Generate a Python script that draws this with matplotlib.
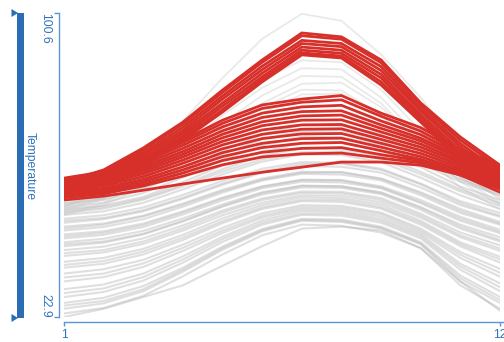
import matplotlib
matplotlib.use("Agg")
import matplotlib.pyplot as plt
from matplotlib.patches import Polygon, Rectangle

plt.rcParams['font.family'] = ['Liberation Sans', 'DejaVu Sans']

months = list(range(1, 13))
y_min, y_max = 22.9, 100.6
axis_name = "Temperature"

# Highlighted series: the hot-summer group
red_upper = [
    [57.4, 60.5, 66.1, 72.7, 80.9, 88.6, 95.5, 94.5, 88.6, 77.6, 68.9, 61.7],
    [57.0, 60.2, 65.6, 72.2, 80.3, 88.0, 94.8, 93.9, 87.9, 77.0, 68.1, 61.0],
    [56.8, 59.8, 64.9, 71.4, 79.4, 87.0, 93.6, 92.8, 86.9, 76.2, 67.2, 60.1],
    [56.5, 59.4, 64.3, 70.6, 78.6, 86.1, 92.8, 92.0, 85.9, 75.5, 66.4, 59.4],
    [56.2, 59.0, 63.6, 69.9, 77.6, 85.2, 91.9, 91.1, 84.9, 74.6, 65.5, 58.5],
    [55.9, 58.6, 62.9, 69.2, 76.8, 84.3, 91.1, 90.3, 84.0, 73.9, 64.6, 57.8],
    [55.6, 58.2, 62.3, 68.6, 75.9, 83.6, 90.4, 89.6, 83.0, 73.2, 63.8, 57.1],
    [55.4, 57.9, 61.7, 68.1, 75.3, 83.0, 89.9, 89.1, 82.2, 72.7, 63.0, 56.6],
]

# Highlighted series: the mild-summer group
red_lower = [
    [58.4, 60.0, 63.5, 68.1, 73.2, 77.1, 78.6, 79.5, 75.0, 71.3, 65.7, 61.7],
    [58.1, 59.7, 63.0, 67.5, 72.4, 76.2, 77.8, 78.4, 74.2, 70.4, 65.0, 61.0],
    [57.8, 59.3, 62.5, 66.8, 71.5, 75.0, 76.6, 77.0, 73.0, 69.5, 64.4, 60.5],
    [57.4, 58.8, 61.9, 66.0, 70.5, 73.9, 75.4, 75.6, 72.0, 68.6, 63.9, 59.8],
    [57.0, 58.3, 61.3, 65.2, 69.6, 72.8, 74.3, 74.5, 71.1, 67.9, 63.4, 59.3],
    [56.6, 57.9, 60.7, 64.5, 68.7, 71.8, 73.2, 73.3, 70.2, 67.1, 62.8, 58.8],
    [56.2, 57.4, 60.1, 63.8, 67.8, 70.7, 72.0, 72.1, 69.2, 66.3, 62.3, 58.2],
    [55.8, 56.9, 59.5, 63.0, 66.9, 69.6, 70.9, 71.0, 68.3, 65.5, 61.7, 57.7],
    [55.3, 56.4, 58.8, 62.2, 65.9, 68.5, 69.7, 69.8, 67.3, 64.7, 61.1, 57.2],
    [54.8, 55.8, 58.1, 61.3, 64.9, 67.3, 68.5, 68.6, 66.3, 63.9, 60.5, 56.7],
    [54.3, 55.3, 57.5, 60.5, 63.9, 66.2, 67.3, 67.5, 65.4, 63.2, 60.0, 56.3],
    [53.8, 54.8, 56.9, 59.7, 62.9, 65.0, 66.0, 66.2, 64.4, 62.8, 59.6, 55.9],
    [53.4, 54.4, 56.4, 58.9, 61.8, 63.8, 64.6, 64.8, 63.5, 62.3, 59.2, 55.6],
    [52.8, 53.8, 55.3, 56.9, 58.4, 59.9, 61.2, 62.5, 62.5, 61.7, 59.2, 54.8],
]

# Background series with hot summers
gray_hot = [
    [51.0, 55.0, 62.0, 73.0, 84.0, 94.0, 100.4, 98.6, 90.0, 79.0, 66.0, 55.0],
    [50.5, 53.5, 59.5, 67.5, 76.0, 83.5, 88.5, 88.0, 81.0, 70.5, 60.0, 53.0],
    [50.0, 53.0, 58.5, 66.0, 74.5, 81.5, 86.5, 86.2, 79.0, 68.5, 58.5, 52.0],
    [49.5, 52.0, 57.5, 64.5, 72.5, 79.5, 84.5, 84.3, 77.5, 67.0, 57.5, 51.5],
    [51.5, 53.5, 58.0, 64.0, 71.0, 77.5, 82.5, 82.8, 76.5, 67.5, 58.5, 53.5],
    [49.0, 51.5, 56.0, 62.5, 70.0, 76.5, 81.0, 80.8, 74.5, 65.0, 56.0, 50.5],
    [52.0, 54.0, 58.0, 63.5, 69.5, 75.0, 79.8, 80.0, 74.5, 66.5, 58.5, 54.0],
]

# Background series, the bulk of the data
gray_main = [
    [52.0, 53.2, 56.0, 60.4, 65.4, 69.6, 72.0, 71.8, 69.6, 64.0, 59.0, 55.0],
    [51.5, 52.8, 55.5, 59.8, 64.5, 68.3, 70.4, 70.6, 68.0, 63.2, 58.0, 54.6],
    [51.0, 52.1, 54.6, 58.6, 63.1, 66.8, 69.0, 68.8, 66.8, 62.0, 57.5, 54.0],
    [50.5, 51.4, 53.6, 57.4, 61.6, 65.2, 67.3, 67.5, 65.6, 61.2, 56.2, 52.8],
    [50.0, 51.0, 53.2, 56.7, 60.7, 64.1, 66.0, 65.8, 64.0, 60.0, 55.5, 52.0],
    [49.5, 50.6, 52.9, 56.3, 60.1, 63.2, 65.0, 65.2, 63.3, 59.4, 55.0, 51.3],
    [49.0, 49.9, 52.1, 55.5, 59.4, 62.6, 64.5, 64.3, 62.5, 58.5, 54.0, 50.5],
    [48.0, 48.9, 50.9, 54.1, 57.7, 60.8, 62.5, 62.3, 60.8, 57.0, 52.5, 49.5],
    [47.5, 48.2, 50.2, 53.4, 57.0, 60.1, 62.0, 62.1, 60.5, 56.8, 52.0, 48.8],
    [47.0, 47.9, 49.9, 53.1, 56.7, 59.8, 61.5, 61.3, 59.8, 56.0, 51.5, 48.5],
    [46.0, 46.8, 48.8, 51.9, 55.4, 58.3, 60.0, 59.9, 58.3, 54.8, 50.5, 47.2],
    [45.5, 46.5, 48.6, 51.6, 55.1, 58.0, 59.8, 59.9, 58.2, 54.5, 50.0, 46.8],
    [45.0, 45.9, 47.9, 51.1, 54.7, 57.8, 59.5, 59.3, 57.8, 54.0, 49.5, 46.5],
    [44.0, 44.8, 46.8, 49.9, 53.4, 56.3, 58.0, 57.9, 56.3, 52.8, 48.5, 45.2],
    [43.5, 44.4, 46.4, 49.6, 53.2, 56.2, 57.9, 57.8, 56.0, 52.3, 48.0, 44.7],
    [43.0, 43.9, 45.9, 49.1, 52.7, 55.8, 57.5, 57.3, 55.8, 52.0, 47.5, 44.3],
    [42.0, 42.9, 44.9, 48.1, 51.7, 54.8, 56.5, 56.3, 54.8, 51.0, 46.5, 43.3],
    [41.5, 42.2, 44.2, 47.5, 51.3, 54.6, 56.4, 56.3, 54.6, 50.8, 46.0, 42.6],
    [41.0, 41.9, 44.0, 47.3, 51.1, 54.2, 56.0, 55.9, 54.3, 50.3, 45.5, 42.2],
    [40.0, 40.9, 43.0, 46.3, 50.1, 53.2, 55.0, 54.9, 53.3, 49.3, 44.5, 41.2],
    [39.2, 40.0, 42.2, 45.6, 49.6, 52.8, 54.6, 54.5, 52.8, 48.8, 43.8, 40.4],
    [38.5, 39.4, 41.6, 45.0, 48.9, 52.1, 54.0, 53.9, 52.2, 48.3, 43.3, 39.8],
    [37.0, 38.0, 40.3, 43.9, 48.1, 51.5, 53.5, 53.3, 51.6, 47.5, 42.0, 38.3],
    [36.2, 37.2, 39.6, 43.2, 47.4, 50.9, 52.9, 52.8, 51.0, 47.0, 41.5, 37.6],
    [35.5, 36.5, 38.9, 42.6, 46.9, 50.5, 52.5, 52.3, 50.6, 46.5, 41.0, 36.8],
    [34.0, 35.1, 37.5, 41.4, 45.7, 49.4, 51.5, 51.3, 49.6, 45.5, 39.5, 35.2],
    [33.0, 34.0, 36.6, 40.6, 45.0, 48.8, 51.0, 50.8, 49.2, 45.0, 38.8, 34.2],
    [32.0, 33.1, 35.7, 39.8, 44.4, 48.3, 50.5, 50.3, 48.6, 44.5, 38.0, 33.2],
    [30.0, 31.2, 34.0, 38.4, 43.4, 47.6, 50.0, 49.8, 48.0, 44.0, 36.5, 31.5],
    [29.0, 30.2, 33.1, 37.6, 42.8, 47.0, 49.4, 49.3, 47.5, 43.5, 35.8, 30.5],
    [28.0, 29.3, 32.2, 36.8, 42.1, 46.5, 49.0, 48.8, 47.0, 43.0, 35.0, 29.5],
    [26.5, 27.8, 30.8, 35.5, 40.9, 45.4, 48.0, 47.8, 46.0, 42.0, 33.5, 28.0],
    [25.8, 27.0, 30.0, 35.0, 40.5, 45.1, 47.7, 47.5, 45.7, 41.7, 32.8, 27.2],
    [25.0, 26.4, 29.5, 34.5, 40.1, 44.8, 47.5, 47.2, 45.5, 41.5, 32.0, 26.5],
    [23.8, 25.2, 28.3, 33.3, 38.9, 43.8, 46.5, 46.2, 44.5, 40.5, 31.0, 25.0],
    [22.9, 25.0, 28.0, 31.0, 36.0, 41.0, 45.5, 46.0, 45.0, 40.5, 32.0, 24.5],
]

W, H = 504, 342
fig = plt.figure(figsize=(W / 100, H / 100), dpi=100)
px = 72 / 100  # points per pixel

x0, x1 = 64, 500
yt, yb = 13, 317
ax = fig.add_axes([x0 / W, (H - yb) / H, (x1 - x0) / W, (yb - yt) / H])
ax.set_xlim(1, 12)
ax.set_ylim(y_min, y_max)
ax.patch.set_alpha(0)

gray = '#b9b9b9'
red = '#d7302a'
for series in gray_main:
    ax.plot(months, series, color=gray, lw=1.5, alpha=0.45, zorder=2)
for series in gray_hot:
    ax.plot(months, series, color=gray, lw=1.3, alpha=0.3, zorder=2)
for series in red_upper + red_lower:
    ax.plot(months, series, color=red, lw=2.0, zorder=3, solid_joinstyle='miter')

axis_blue = '#5b96d3'
text_blue = '#2f72bf'
bar_blue = '#2a6db4'

for s in ('top', 'right'):
    ax.spines[s].set_visible(False)
ax.spines['left'].set_position(('outward', 5 * px))
ax.spines['bottom'].set_position(('outward', 5 * px))
for s in ('left', 'bottom'):
    ax.spines[s].set_color(axis_blue)
    ax.spines[s].set_linewidth(1.0)
ax.spines['bottom'].set_bounds(1, 12.2)

ax.set_yticks([y_min, y_max])
ax.set_yticklabels([])
ax.tick_params(axis='y', direction='out', length=5 * px, width=1.0, color=axis_blue)
ax.set_xticks([1, 12])
ax.set_xticklabels(['1', '12'])
ax.tick_params(axis='x', direction='out', length=4 * px, width=1.0, color=axis_blue,
               labelcolor=text_blue, labelsize=8.7, pad=2)

# rotated y-range labels beside the axis
fig.text(45 / W, (H - yt) / H, f"{y_max}", rotation=-90, ha='center', va='top',
         color=text_blue, fontsize=8.7)
fig.text(45 / W, (H - yb - 1) / H, f"{y_min}", rotation=-90, ha='center', va='bottom',
         color=text_blue, fontsize=8.7)
fig.text(30 / W, (H - 166) / H, axis_name, rotation=-90, ha='center', va='center',
         color=text_blue, fontsize=8.7)

# range bar with handles
fig.patches.append(Rectangle((17 / W, (H - 318) / H), 7 / W, 305 / H,
                             transform=fig.transFigure, color=bar_blue, lw=0))
for yc in (13, 318):
    tri = [(11.5 / W, (H - yc + 4) / H), (11.5 / W, (H - yc - 4) / H), (18 / W, (H - yc) / H)]
    fig.patches.append(Polygon(tri, closed=True, transform=fig.transFigure, color=bar_blue, lw=0))

fig.savefig('out.png', dpi=100)
